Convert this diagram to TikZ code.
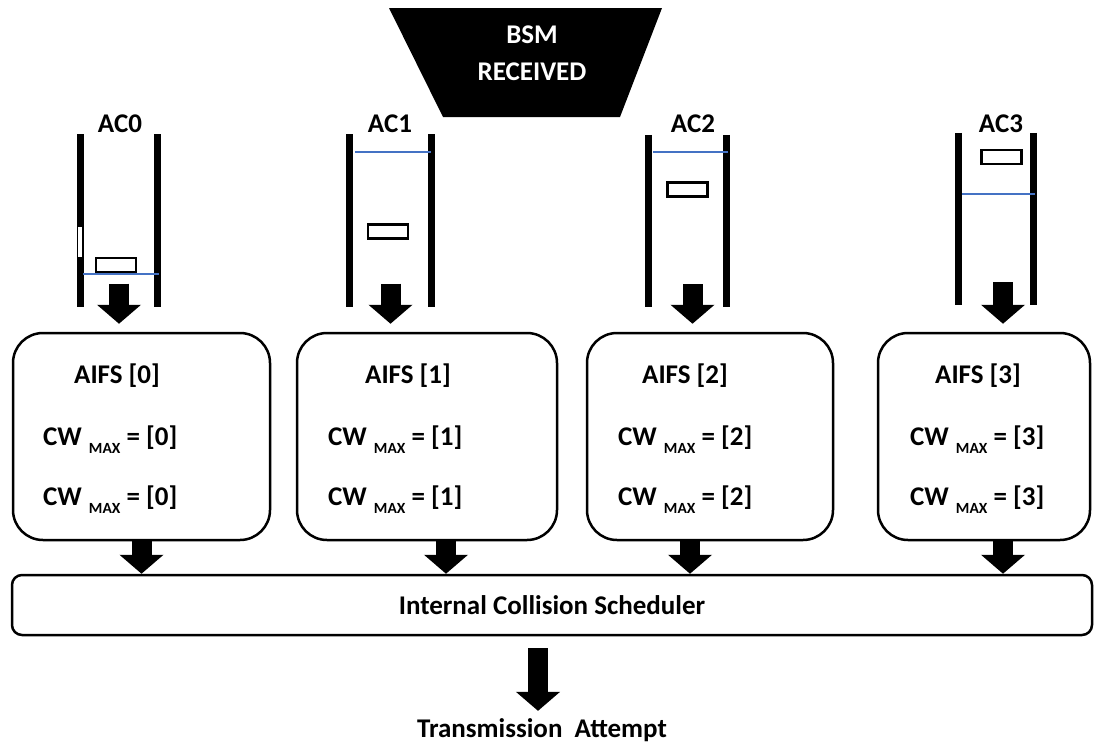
\documentclass[tikz,border=0pt]{standalone}
\usepackage{fontspec}
\setmainfont{Carlito}
\usetikzlibrary{arrows.meta}
\definecolor{levelblue}{RGB}{68,114,196}
\newcommand{\cwmax}{CW\hspace{7pt}\raisebox{-8pt}{\fontsize{15.5}{15.5}\selectfont MAX}}
\tikzset{
  txt/.style={font=\fontsize{27}{37}\selectfont\bfseries, inner sep=0pt},
  acbox/.style={draw, line width=2.5pt, rounded corners=30pt, minimum height=207pt, inner sep=0pt},
  schedbox/.style={draw, line width=2.5pt, rounded corners=10pt, minimum width=1080pt, minimum height=60pt},
  qspace/.style={minimum width=#1, minimum height=172pt, inner sep=0pt},
  qbar/.style={line width=7pt},
  pkt/.style={draw, line width=2.8pt, minimum width=40pt, minimum height=14pt, inner sep=0pt},
  level/.style={levelblue, line width=1.5pt},
  fatarrow/.style={line width=20pt, -{Triangle[length=19pt,width=43pt]}},
}

\begin{document}
\begin{tikzpicture}[x=1pt,y=-1pt]
        \useasboundingbox (0,0) rectangle (1101,742);
        % BSM received
        \fill (389,8) -- (662,8) -- (620,117) -- (443,117) -- cycle;
        \node (bsm) at (532,43) [txt,white,anchor=base] {BSM};
        \node (recv) at (532,80) [txt,white,anchor=base] {RECEIVED};
        % queues
        \node (q0) at (119,220.5) [qspace=76pt] {};
        \node (q1) at (390.5,220.5) [qspace=81pt] {};
        \node (q2) at (687.5,221) [qspace=77pt] {};
        \node (q3) at (996,219) [qspace=74pt] {};
        \draw [qbar] (q0.north west) -- (q0.south west) (q0.north east) -- (q0.south east);
        \draw [qbar] (q1.north west) -- (q1.south west) (q1.north east) -- (q1.south east);
        \draw [qbar] (q2.north west) -- (q2.south west) (q2.north east) -- (q2.south east);
        \draw [qbar] (q3.north west) -- (q3.south west) (q3.north east) -- (q3.south east);
        \fill [white] (78,227) rectangle (82,257);
        \node (ac0) at (120,132) [txt,anchor=base] {AC0};
        \node (ac1) at (390,132) [txt,anchor=base] {AC1};
        \node (ac2) at (693,132) [txt,anchor=base] {AC2};
        \node (ac3) at (1001,132) [txt,anchor=base] {AC3};
        \node (p0) at (116,265) [pkt] {};
        \node (p1) at (388,231.5) [pkt] {};
        \node (p2) at (687.5,189.5) [pkt] {};
        \node (p3) at (1001.5,157) [pkt] {};
        \draw [level] (83,274) -- (159,274);
        \draw [level] (355,152) -- (431,152);
        \draw [level] (653,152) -- (728,152);
        \draw [level] (962,194) -- (1035,194);
        % access categories
        \node (box0) at (141.5,436.5) [acbox,minimum width=257pt] {};
        \node (box1) at (427,436.5) [acbox,minimum width=260pt] {};
        \node (box2) at (710,436.5) [acbox,minimum width=246pt] {};
        \node (box3) at (984,436.5) [acbox,minimum width=212pt] {};
        \node (aifs0) at (117,383) [txt,anchor=base] {AIFS [0]};
        \node (cwa0) at (43,445) [txt,anchor=base west] {\cwmax{} = [0]};
        \node (cwb0) at (43,505) [txt,anchor=base west] {\cwmax{} = [0]};
        \node (aifs1) at (408,383) [txt,anchor=base] {AIFS [1]};
        \node (cwa1) at (328,445) [txt,anchor=base west] {\cwmax{} = [1]};
        \node (cwb1) at (328,505) [txt,anchor=base west] {\cwmax{} = [1]};
        \node (aifs2) at (685,383) [txt,anchor=base] {AIFS [2]};
        \node (cwa2) at (618,445) [txt,anchor=base west] {\cwmax{} = [2]};
        \node (cwb2) at (618,505) [txt,anchor=base west] {\cwmax{} = [2]};
        \node (aifs3) at (978,383) [txt,anchor=base] {AIFS [3]};
        \node (cwa3) at (910,445) [txt,anchor=base west] {\cwmax{} = [3]};
        \node (cwb3) at (910,505) [txt,anchor=base west] {\cwmax{} = [3]};
        % scheduler
        \node (sched) at (552,605) [schedbox,txt] {Internal Collision Scheduler};
        \node (ta) at (542,737) [txt,anchor=base] {Transmission\ \ Attempt};
        \draw [fatarrow,shorten >=8pt] ([yshift=23pt]q0.south) -- (q0.south |- box0.north);
        \draw [fatarrow,shorten >=8pt] ([yshift=23pt]q1.south) -- (q1.south |- box1.north);
        \draw [fatarrow,shorten >=8pt] ([xshift=5pt,yshift=23pt]q2.south) -- ([xshift=5pt]q2.south |- box2.north);
        \draw [fatarrow,shorten >=8pt] ([xshift=7pt,yshift=23pt]q3.south) -- ([xshift=7pt]q3.south |- box3.north);
        \draw [fatarrow] (box0.south) -- (box0.south |- sched.north);
        \draw [fatarrow] ([xshift=19pt]box1.south) -- ([xshift=19pt]box1.south |- sched.north);
        \draw [fatarrow] ([xshift=-20pt]box2.south) -- ([xshift=-20pt]box2.south |- sched.north);
        \draw [fatarrow] ([xshift=19pt]box3.south) -- ([xshift=19pt]box3.south |- sched.north);
        \draw [fatarrow,shorten <=12pt,shorten >=7pt] ([xshift=-4pt]ta.north |- sched.south) -- ([xshift=-4pt]ta.north);
\end{tikzpicture}
\end{document}
